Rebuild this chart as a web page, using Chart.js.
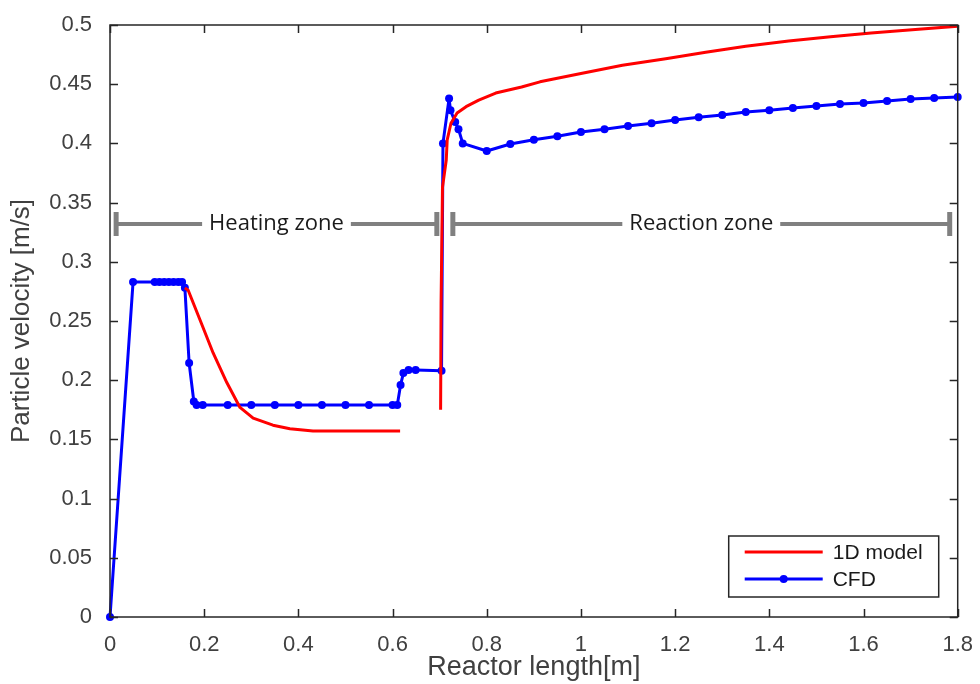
<!DOCTYPE html>
<html>
<head>
<meta charset="utf-8">
<script src="https://cdn.jsdelivr.net/npm/chart.js@4.4.1/dist/chart.umd.min.js"></script>
<style>
  html, body { margin: 0; padding: 0; background: #fff; }
</style>
</head>
<body>
<canvas id="result_chart" width="980" height="684"></canvas>
<script>
// 1D model (red line), null marks the gap between the two parts
const modelX = [0.159, 0.166, 0.191, 0.219, 0.248, 0.276, 0.304, 0.346, 0.382, 0.431, 0.616,
                0.66,
                0.702, 0.703, 0.706, 0.714, 0.716, 0.724, 0.737, 0.756, 0.783, 0.819, 0.874, 0.913,
                1.0, 1.088, 1.18, 1.265, 1.35, 1.441, 1.53, 1.616, 1.71, 1.8];
const modelY = [0.278, 0.276, 0.251, 0.223, 0.198, 0.177, 0.168, 0.162, 0.159, 0.157, 0.157,
                null,
                0.175, 0.265, 0.363, 0.386, 0.403, 0.417, 0.4256, 0.431, 0.4366, 0.4425, 0.4476, 0.452,
                0.459, 0.466, 0.4715, 0.477, 0.482, 0.4865, 0.490, 0.4932, 0.4963, 0.499];

// CFD (blue line with dots)
const cfdX = [0, 0.049, 0.095, 0.105, 0.115, 0.125, 0.135, 0.145, 0.153,
              0.159, 0.168, 0.178, 0.184, 0.197, 0.25, 0.3, 0.35, 0.4, 0.45, 0.5, 0.55, 0.6, 0.61,
              0.617, 0.623, 0.634, 0.649, 0.704,
              0.707, 0.72, 0.723, 0.733, 0.74, 0.749,
              0.8, 0.85, 0.9, 0.95, 1.0, 1.05, 1.1, 1.15, 1.2, 1.25, 1.3, 1.35, 1.4,
              1.45, 1.5, 1.55, 1.6, 1.65, 1.7, 1.75, 1.8];
const cfdY = [0, 0.283, 0.283, 0.283, 0.283, 0.283, 0.283, 0.283, 0.283,
              0.278, 0.2145, 0.182, 0.179, 0.179, 0.179, 0.179, 0.179, 0.179, 0.179, 0.179, 0.179, 0.179, 0.179,
              0.196, 0.206, 0.2086, 0.2086, 0.208,
              0.40, 0.438, 0.428, 0.418, 0.412, 0.40,
              0.3936, 0.3995, 0.403, 0.406, 0.4096, 0.412, 0.4147, 0.417, 0.4198, 0.422, 0.424, 0.4265, 0.428,
              0.4299, 0.4316, 0.4333, 0.4341, 0.4358, 0.4375, 0.4383, 0.4392];

const xTickValues = [0, 0.2, 0.4, 0.6, 0.8, 1, 1.2, 1.4, 1.6, 1.8];
const yTickValues = [0, 0.05, 0.1, 0.15, 0.2, 0.25, 0.3, 0.35, 0.4, 0.45, 0.5];

// zone brackets drawn over the plot
const zoneNames = ['Heating zone', 'Reaction zone'];
const zoneStart = [0.013, 0.728];
const zoneEnd = [0.694, 1.783];
const zoneLevel = 0.332;

const seriesNames = ['1D model', 'CFD'];
const seriesColors = ['#ff0000', '#0000ff'];

const axisColor = '#262626';
const labelColor = '#404040';
const tickFont = { family: 'Liberation Sans, Arial, sans-serif', size: 22 };

function toPoints(xs, ys) {
    return xs.map((x, i) => ({ x, y: ys[i] }));
}

function fmt(v) {
    return String(parseFloat(v.toFixed(2)));
}

const zonePlugin = {
    id: 'zones',
    beforeDatasetsDraw(chart) {
        const { ctx, scales: { x, y } } = chart;
        const py = y.getPixelForValue(zoneLevel);
        ctx.save();
        ctx.strokeStyle = '#808080';
        ctx.font = '22px "Open Sans", Lato, sans-serif';
        ctx.textAlign = 'center';
        ctx.textBaseline = 'middle';
        for (let i = 0; i < zoneNames.length; i++) {
            const x0 = x.getPixelForValue(zoneStart[i]);
            const x1 = x.getPixelForValue(zoneEnd[i]);
            const cx = (x0 + x1) / 2;
            const half = ctx.measureText(zoneNames[i]).width / 2 + 7;
            ctx.lineWidth = 4;
            ctx.beginPath();
            ctx.moveTo(x0, py); ctx.lineTo(cx - half, py);
            ctx.moveTo(cx + half, py); ctx.lineTo(x1, py);
            ctx.stroke();
            ctx.lineWidth = 5;
            ctx.beginPath();
            ctx.moveTo(x0, py - 12); ctx.lineTo(x0, py + 12);
            ctx.moveTo(x1, py - 12); ctx.lineTo(x1, py + 12);
            ctx.stroke();
            ctx.fillStyle = '#1a1a1a';
            ctx.fillText(zoneNames[i], cx, py);
        }
        ctx.restore();
    }
};

const framePlugin = {
    id: 'frame',
    afterDraw(chart) {
        const { ctx, chartArea: a, scales: { x, y } } = chart;
        ctx.save();
        ctx.strokeStyle = axisColor;
        ctx.lineWidth = 1.5;
        ctx.strokeRect(a.left, a.top, a.right - a.left, a.bottom - a.top);
        ctx.beginPath();
        for (const t of x.ticks) {
            const px = Math.round(x.getPixelForValue(t.value)) + 0.5;
            ctx.moveTo(px, a.bottom); ctx.lineTo(px, a.bottom - 8);
            ctx.moveTo(px, a.top); ctx.lineTo(px, a.top + 8);
        }
        for (const t of y.ticks) {
            const py = Math.round(y.getPixelForValue(t.value)) + 0.5;
            ctx.moveTo(a.left, py); ctx.lineTo(a.left + 8, py);
            ctx.moveTo(a.right, py); ctx.lineTo(a.right - 8, py);
        }
        ctx.stroke();

        // legend box, bottom right inside the plot
        const lx = a.right - 229, ly = a.bottom - 81, lw = 210, lh = 61;
        ctx.fillStyle = '#fff';
        ctx.fillRect(lx, ly, lw, lh);
        ctx.strokeRect(lx, ly, lw, lh);
        ctx.font = '21px Liberation Sans, Arial, sans-serif';
        ctx.textBaseline = 'middle';
        ctx.textAlign = 'left';
        for (let i = 0; i < seriesNames.length; i++) {
            const rowY = ly + 16 + i * 27;
            ctx.strokeStyle = seriesColors[i];
            ctx.lineWidth = 3;
            ctx.beginPath();
            ctx.moveTo(lx + 16, rowY); ctx.lineTo(lx + 94, rowY);
            ctx.stroke();
            if (i === 1) {
                ctx.fillStyle = seriesColors[i];
                ctx.beginPath();
                ctx.arc(lx + 55, rowY, 4, 0, Math.PI * 2);
                ctx.fill();
            }
            ctx.fillStyle = '#1a1a1a';
            ctx.fillText(seriesNames[i], lx + 104, rowY + 1);
        }
        ctx.restore();
    }
};

const data = {
    datasets: [{
        label: seriesNames[0],
        data: toPoints(modelX, modelY),
        borderColor: seriesColors[0],
        backgroundColor: seriesColors[0],
        borderWidth: 3,
        borderJoinStyle: 'round',
        pointRadius: 0,
        spanGaps: false,
        tension: 0
    }, {
        label: seriesNames[1],
        data: toPoints(cfdX, cfdY),
        borderColor: seriesColors[1],
        backgroundColor: seriesColors[1],
        borderWidth: 3,
        borderJoinStyle: 'round',
        pointRadius: 4,
        pointBorderWidth: 0,
        pointBackgroundColor: seriesColors[1],
        tension: 0,
        clip: 6
    }]
};

const config = {
    type: 'line',
    data,
    options: {
        responsive: false,
        animation: false,
        devicePixelRatio: 1,
        layout: { padding: { top: 25, right: 22, left: 0, bottom: 0 } },
        plugins: {
            legend: { display: false },
            tooltip: { enabled: false }
        },
        scales: {
            x: {
                type: 'linear',
                min: 0,
                max: 1.8,
                afterBuildTicks: axis => { axis.ticks = xTickValues.map(v => ({ value: v })); },
                afterFit: axis => { axis.height = 67; },
                grid: { display: false },
                border: { display: false },
                ticks: { color: labelColor, font: tickFont, padding: 7, maxRotation: 0, callback: fmt },
                title: {
                    display: true,
                    text: 'Reactor length[m]',
                    color: labelColor,
                    font: { family: 'Liberation Sans, Arial, sans-serif', size: 27 },
                    padding: 0
                }
            },
            y: {
                type: 'linear',
                min: 0,
                max: 0.5,
                afterBuildTicks: axis => { axis.ticks = yTickValues.map(v => ({ value: v })); },
                afterFit: axis => { axis.width = 110; },
                grid: { display: false },
                border: { display: false },
                ticks: { color: labelColor, font: tickFont, padding: 10, callback: fmt },
                title: {
                    display: true,
                    text: 'Particle velocity [m/s]',
                    color: labelColor,
                    font: { family: 'Liberation Sans, Arial, sans-serif', size: 26 },
                    padding: { top: 6, bottom: 0 }
                }
            }
        }
    },
    plugins: [zonePlugin, framePlugin]
};

document.addEventListener('DOMContentLoaded', () => {
    const ctx = document.getElementById('result_chart').getContext('2d');
    new Chart(ctx, config);
});
</script>
</body>
</html>
